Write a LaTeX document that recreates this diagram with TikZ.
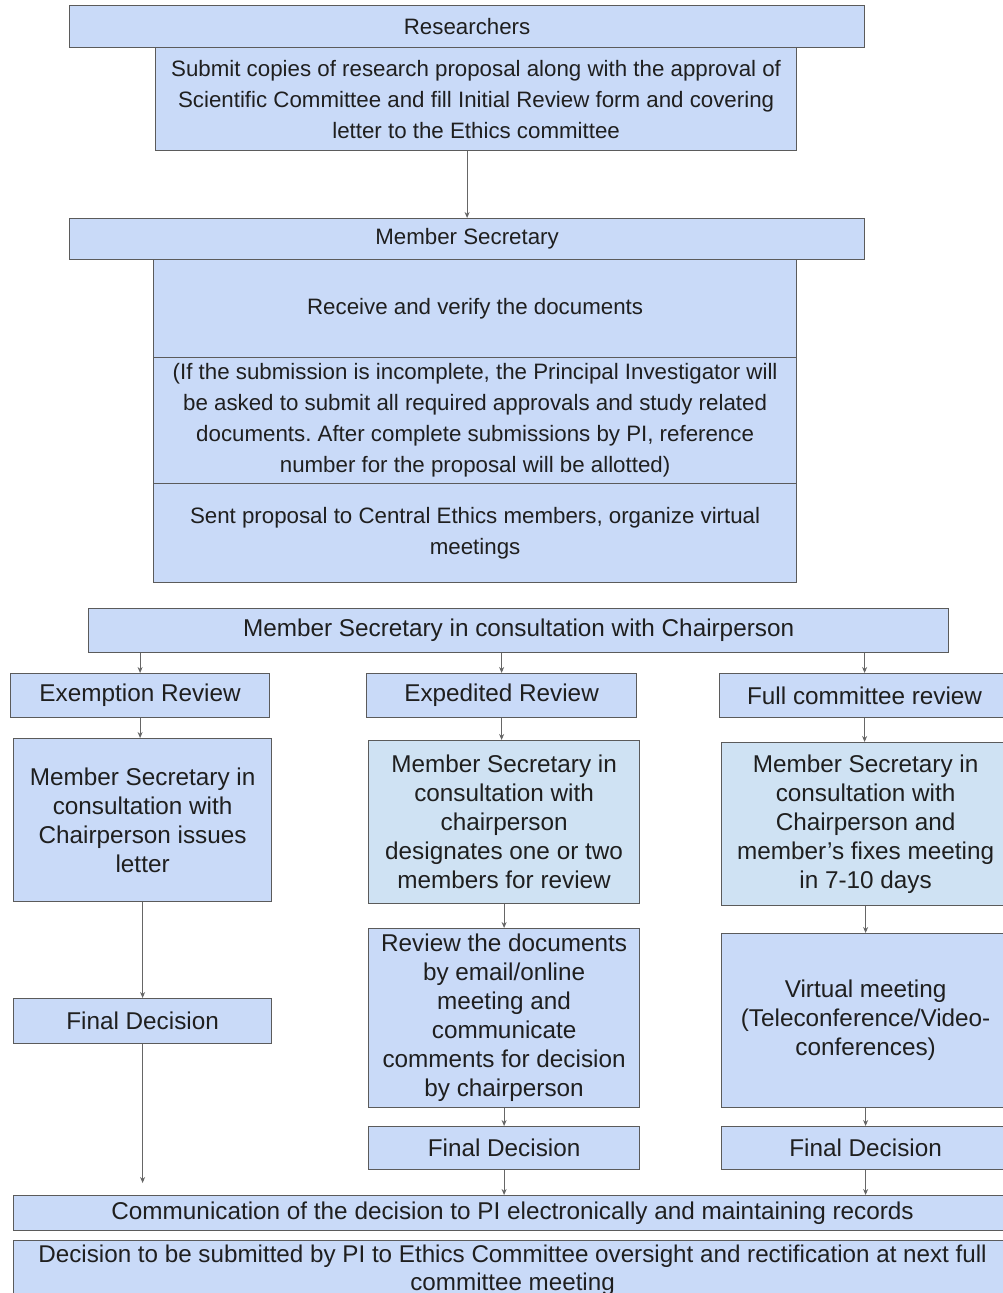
\documentclass[tikz,border=0pt]{standalone}
\usepackage{fontspec}
\setmainfont{Liberation Sans}
\usepackage{tikz}
\usetikzlibrary{arrows.meta}
\definecolor{boxfill}{HTML}{C9DAF8}
\definecolor{boxlight}{HTML}{CFE2F3}
\definecolor{boxline}{HTML}{5B5B5B}
\definecolor{arrcol}{HTML}{666666}
\definecolor{txtcol}{HTML}{1F1F1F}
\tikzstyle{mybox} = [draw=boxline, fill=boxfill, line width=1.2pt, rectangle, anchor=north west, inner sep=0pt, align=center, text=txtcol]
\tikzstyle{lightbox} = [mybox, fill=boxlight]
\tikzstyle{topfont} = [font=\fontsize{22.3}{31}\selectfont]
\tikzstyle{revfont} = [font=\fontsize{24.3}{29}\selectfont]
\tikzstyle{arr} = [draw=arrcol, line width=0.9pt, -{Stealth[length=6pt,width=5pt]}]
\frenchspacing

\begin{document}
\begin{tikzpicture}[x=1pt,y=-1pt]
\useasboundingbox[fill=white] (0,0) rectangle (1002,1293);

% top part
\node[mybox, topfont, minimum width=795pt, minimum height=42pt] (res) at (69,5) {Researchers};
\node[mybox, topfont, minimum width=641pt, minimum height=103pt] (sub) at (155,47) {Submit copies of research proposal along with the approval of\\Scientific Committee and fill Initial Review form and covering\\letter to the Ethics committee};
\node[mybox, topfont, minimum width=795pt, minimum height=41pt] (ms) at (69,218) {Member Secretary};
\node[mybox, topfont, minimum width=643pt, minimum height=98pt] (rcv) at (153,259) {Receive and verify the documents};
\node[mybox, topfont, minimum width=643pt, minimum height=126pt] (inc) at (153,357) {(If the submission is incomplete, the Principal Investigator will\\be asked to submit all required approvals and study related\\documents. After complete submissions by PI, reference\\number for the proposal will be allotted)};
\node[mybox, topfont, minimum width=643pt, minimum height=99pt] (snt) at (153,483) {Sent proposal to Central Ethics members, organize virtual\\meetings};

% review types
\node[mybox, revfont, minimum width=860pt, minimum height=44pt] (cons) at (88,608) {Member Secretary in consultation with Chairperson};
\node[mybox, revfont, minimum width=259pt, minimum height=44pt] (exm) at (10,673) {Exemption Review};
\node[mybox, revfont, minimum width=270pt, minimum height=44pt] (exp) at (366,673) {Expedited Review};
\node[mybox, revfont, minimum width=290pt, minimum height=44pt] (ful) at (719,673) {Full committee review};

\node[mybox, revfont, minimum width=258pt, minimum height=163pt] (exmA) at (13,738) {Member Secretary in\\consultation with\\Chairperson issues\\letter};
\node[lightbox, revfont, minimum width=271pt, minimum height=163pt] (expA) at (368,740) {Member Secretary in\\consultation with\\chairperson\\designates one or two\\members for review};
\node[lightbox, revfont, minimum width=288pt, minimum height=163pt] (fulA) at (721,742) {Member Secretary in\\consultation with\\Chairperson and\\member's fixes meeting\\in 7-10 days};

\node[mybox, revfont, minimum width=258pt, minimum height=45pt] (exmB) at (13,998) {Final Decision};
\node[mybox, revfont, minimum width=271pt, minimum height=179pt] (expB) at (368,928) {Review the documents\\by email/online\\meeting and\\communicate\\comments for decision\\by chairperson};
\node[mybox, revfont, minimum width=288pt, minimum height=174pt] (fulB) at (721,933) {Virtual meeting\\(Teleconference/Video-\\conferences)};

\node[mybox, revfont, minimum width=271pt, minimum height=43pt] (expC) at (368,1126) {Final Decision};
\node[mybox, revfont, minimum width=288pt, minimum height=43pt] (fulC) at (721,1126) {Final Decision};

% bottom
\node[mybox, font=\fontsize{24.3}{28}\selectfont, minimum width=998pt, minimum height=35pt] (com) at (13,1195) {Communication of the decision to PI electronically and maintaining records};
\node[mybox, font=\fontsize{24.2}{28}\selectfont, minimum width=998pt, minimum height=60pt] (dec) at (13,1240) {Decision to be submitted by PI to Ethics Committee oversight and rectification at next full\\committee meeting};

% arrows
\draw[arr] (sub.south -| ms.north) -- (ms.north);
\draw[arr] (cons.south -| exm.north) -- (exm.north);
\draw[arr] (cons.south -| exp.north) -- (exp.north);
\draw[arr] (cons.south -| ful.north) -- (ful.north);
\draw[arr] (exm.south) -- (exmA.north -| exm.south);
\draw[arr] (exp.south) -- (expA.north -| exp.south);
\draw[arr] (ful.south) -- (fulA.north -| ful.south);
\draw[arr] (exmA.south -| exmB.north) -- (exmB.north);
\draw[arr] (expA.south) -- (expB.north);
\draw[arr] (fulA.south) -- (fulB.north);
\draw[arr] (expB.south) -- (expC.north);
\draw[arr] (fulB.south) -- (fulC.north);
\draw[arr, shorten >=12pt] (exmB.south) -- (com.north -| exmB.south);
\draw[arr] (expC.south) -- (com.north -| expC.south);
\draw[arr] (fulC.south) -- (com.north -| fulC.south);
\end{tikzpicture}
\end{document}
